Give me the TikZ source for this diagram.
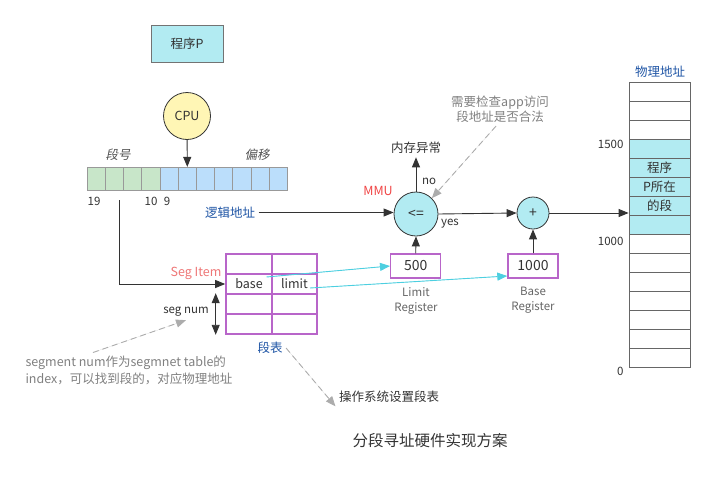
\documentclass[tikz,border=0pt]{standalone}
\usepackage{fontspec}
\setmainfont{Noto Sans CJK SC}
\newfontfamily\slfont[FakeSlant=0.2]{Noto Sans CJK SC}
\usetikzlibrary{arrows.meta}
\definecolor{txt}{HTML}{333333}
\definecolor{cyanfill}{HTML}{B2EBF2}
\definecolor{greenfill}{HTML}{C8E6C9}
\definecolor{bluefill}{HTML}{BBDEFB}
\definecolor{yel}{HTML}{FFF6B5}
\definecolor{purp}{HTML}{B865C9}
\definecolor{bluetxt}{HTML}{1F55A5}
\definecolor{redtxt}{HTML}{F04545}
\definecolor{pinktxt}{HTML}{EE7777}
\definecolor{cyanline}{HTML}{4DCFE0}
\definecolor{graytxt}{HTML}{808080}
\definecolor{cellline}{HTML}{999999}
\begin{document}
\begin{tikzpicture}[x=1pt,y=-1pt,
  font=\fontsize{12.5}{15}\selectfont, text=txt,
  arr/.style={-{Triangle[length=10pt,width=8pt]}, draw=txt, line width=0.9pt},
  cyarr/.style={-{Triangle[length=10pt,width=8pt]}, draw=cyanline, fill=cyanline, line width=0.9pt},
  dasharr/.style={-{Triangle[length=10pt,width=8pt]}, draw=gray!65, fill=gray!65, line width=0.9pt, dash pattern=on 6pt off 4pt},
  dblarr/.style={{Triangle[length=10pt,width=8pt]}-{Triangle[length=10pt,width=8pt]}, draw=txt, line width=0.9pt},
  bitcell/.style={draw=cellline, line width=0.8pt, minimum width=18.18pt, minimum height=23.4pt, inner sep=0pt},
  memcell/.style={draw=gray!80!black, line width=0.8pt, minimum width=61pt, minimum height=19pt, inner sep=0pt},
  stcell/.style={draw=purp, line width=1.6pt, minimum height=20pt, inner sep=0pt},
  reg/.style={draw=purp, line width=1.4pt, minimum width=50pt, minimum height=24pt, inner sep=0pt, font=\fontsize{14}{16}\selectfont},
  small/.style={font=\fontsize{11.5}{15}\selectfont},
]
\useasboundingbox (0,0) rectangle (727,479);

% program box
\node[draw=gray!90!black, fill=cyanfill, line width=1pt, minimum width=72pt, minimum height=37pt] (prog) at (187,43.5) {程序P};

% CPU
\node[circle, draw=txt, fill=yel, line width=0.8pt, minimum size=47pt, inner sep=0pt] (cpu) at (187,116) {CPU};

% bits
\foreach \i in {0,...,10}{
  \ifnum\i<4
    \node[bitcell, fill=greenfill] (b\i) at ({87.3+18.18*(\i+0.5)},179) {};
  \else
    \node[bitcell, fill=bluefill] (b\i) at ({87.3+18.18*(\i+0.5)},179) {};
  \fi
}
\draw[arr] (cpu) -- (b5.north);
\node[text=txt!85] (dh) at (118,155) {\slfont 段号};
\node[text=txt!85] (py) at (257,155) {\slfont 偏移};
\node[small] (n19) at (94,201) {19};
\node[small] (n10) at (151,201) {10};
\node[small] (n9) at (167,201) {9};

% segment table
\foreach \r in {0,...,3}{
  \node[stcell, minimum width=46pt] (st\r0) at (249,{264+20*\r}) {};
  \node[stcell, minimum width=45pt] (st\r1) at (294.5,{264+20*\r}) {};
}
\node at (st10) {base};
\node at (st11) {limit};
\node[text=bluetxt] (stl) at (270,348) {段表};

\coordinate (segtap) at (119,200);
\draw[arr] (segtap) |- (st10.west);
\node[text=pinktxt] (segitem) at (196,273) {Seg Item};

\draw[dblarr] ([xshift=-9.5pt]st20.north west) -- ([xshift=-9.5pt]st30.south west);
\node[small] (sn) at (186,312) {seg num};

% logical address
\node[text=bluetxt] (la) at (230,212.5) {逻辑地址};

% comparator and adder
\node[circle, draw=txt, fill=cyanfill, line width=0.8pt, minimum size=44pt, inner sep=0pt, font=\fontsize{14}{16}\selectfont] (le) at (416,214) {<=};
\node[circle, draw=txt, fill=cyanfill, line width=0.8pt, minimum size=32pt, inner sep=0pt, font=\fontsize{14}{16}\selectfont] (plus) at (533,213) {+};
\node[text=redtxt] (mmu) at (378,191) {MMU};
\node[small] (no) at (429,181) {no};
\node[small] (yes) at (450,224) {yes};
\node (exc) at (416,148) {内存异常};
\node[text=graytxt, align=center, font=\fontsize{12.5}{15.5}\selectfont] (note) at (500,109) {需要检查app访问\\段地址是否合法};

\draw[arr] (la.east) -- (la.east -| le.west);
\draw[arr] (le.north) -- (exc.south);
\draw[dasharr] ([xshift=-4pt]note.south) -- (le.north east);
\draw[arr] (le.east) -- (plus.west);

% registers
\node[reg] (lim) at (415.7,266) {500};
\node[reg] (base) at (533,266) {1000};
\node[small, text=txt!75, align=center] (limlab) at (416,300.5) {Limit\\Register};
\node[small, text=txt!75, align=center] (baselab) at (533,300.5) {Base\\Register};
\draw[arr] (lim.north) -- (le.south);
\draw[arr] (base.north) -- (plus.south);

\coordinate (bsrc) at (266.5,277);
\coordinate (lsrc) at (310,288);
\draw[cyarr] (bsrc) -- (lim.west);
\draw[cyarr] (lsrc) -- ([yshift=-10pt]base.west);

% physical memory
\foreach \i in {0,...,14}{
  \ifnum\i<3
    \node[memcell, fill=white] (m\i) at (659.5,{82+19*(\i+0.5)}) {};
  \else\ifnum\i<8
    \node[memcell, fill=cyanfill] (m\i) at (659.5,{82+19*(\i+0.5)}) {};
  \else
    \node[memcell, fill=white] (m\i) at (659.5,{82+19*(\i+0.5)}) {};
  \fi\fi
}
\node at (m4) {程序};
\node at (m5) {P所在};
\node at (m6) {的段};
\node[text=bluetxt] (phys) at (660,72) {物理地址};
\node[small, anchor=east] (l1500) at (627,144) {1500};
\node[small, anchor=east] (l1000) at (627,241.5) {1000};
\node[small, anchor=east] (l0) at (627,371) {0};
\draw[arr] (plus.east) -- (plus.east -| m6.west);

% notes
\node[text=graytxt, align=left, anchor=west, font=\fontsize{12.5}{17}\selectfont] (note2) at (22,370.5) {segment num作为segmnet table的\\index，可以找到段的，对应物理地址};
\draw[dasharr] ([xshift=-36pt]note2.north) -- (sn.south);
\node (os) at (389,397) {操作系统设置段表};
\draw[dasharr] (stl.east) -- (os.south west);

\node[font=\fontsize{15.5}{18}\selectfont] (title) at (430,441) {分段寻址硬件实现方案};
\end{tikzpicture}
\end{document}
